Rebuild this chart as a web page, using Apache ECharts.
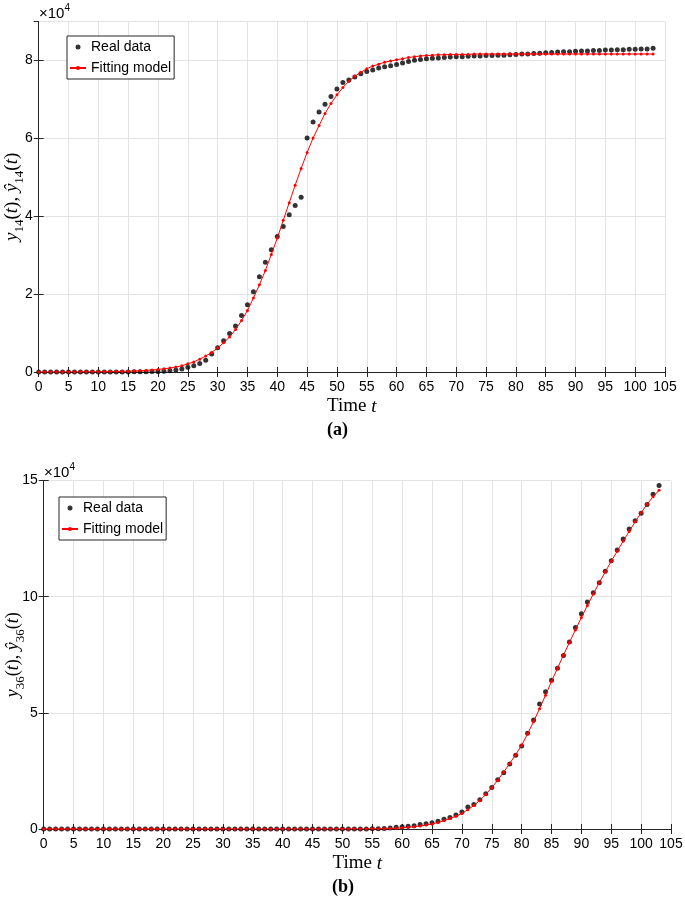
<!DOCTYPE html>
<html><head><meta charset="utf-8">
<script src="https://cdn.jsdelivr.net/npm/echarts@6/dist/echarts.min.js"></script>
<style>html,body{margin:0;padding:0;background:#fff}#c{width:685px;height:900px}</style>
</head><body><div id="c"></div>
<script>
// ---------- data ----------
const xTickLabels = [0,5,10,15,20,25,30,35,40,45,50,55,60,65,70,75,80,85,90,95,100,105];
const yTickLabelsA = [0,2,4,6,8];          // ×10^4
const yTickLabelsB = [0,5,10,15];          // ×10^4

// (a) real data, t = 0..103
const realA = [
0,0,0,0,0,0,0,0,0,0,
0,0,10,10,20,30,40,60,80,110,
150,200,300,500,800,1200,1600,2200,3000,4600,
6200,8000,9900,11800,14500,17300,20600,24500,28200,31400,
34800,37400,40400,42800,44900,60100,64200,66800,68800,70800,
72700,74400,75000,75800,76600,77200,77600,78100,78400,78700,
79000,79400,79800,80100,80300,80500,80600,80700,80800,80900,
81000,81000,81100,81200,81200,81300,81300,81400,81400,81500,
81600,81700,81700,81800,81900,82000,82100,82200,82300,82300,
82400,82500,82500,82600,82600,82700,82700,82800,82800,82900,
82900,83000,83000,83200];
// (a) fitting model
const fitA = [
10,10,10,20,20,20,30,40,40,50,
70,80,100,130,160,210,260,330,410,520,
660,830,1000,1300,1600,2100,2600,3300,4100,5000,
6200,7500,9000,10900,13200,15800,19000,22400,26100,30200,
34400,39000,43500,48000,52300,56400,60100,63300,66400,69000,
71200,73100,74700,76000,77000,77900,78600,79100,79600,79900,
80200,80500,80800,81000,81200,81300,81400,81500,81500,81600,
81600,81600,81600,81700,81700,81700,81700,81700,81700,81700,
81700,81700,81700,81700,81700,81700,81700,81700,81700,81700,
81700,81700,81700,81700,81700,81700,81700,81700,81700,81700,
81700,81700,81700,81700];
// (b) real data
const realB = [
0,0,0,0,0,0,0,0,0,0,
0,0,0,0,0,0,0,0,0,0,
0,0,0,0,0,0,0,0,0,0,
0,0,0,0,0,0,0,0,0,0,
0,0,0,0,0,0,0,0,0,0,
0,10,20,30,40,60,100,200,400,700,
1000,1200,1400,1900,2300,2700,3300,4200,4900,6000,
7300,9500,10500,12600,15200,17900,21200,24200,28000,31700,
35700,41200,46900,53800,59100,64000,69200,74700,80500,86700,
92600,97700,101700,106000,110900,115500,120100,124800,129100,132700,
135900,139700,144100,147900];
// (b) fitting model
const fitB = [
0,0,0,0,0,0,0,0,0,0,
0,0,0,0,0,0,0,0,0,0,
0,0,0,0,0,0,0,0,0,0,
0,0,0,0,0,0,0,0,0,0,
0,0,0,0,0,0,0,0,0,0,
10,10,20,30,40,60,80,120,180,280,
500,700,1000,1300,1700,2200,2800,3600,4500,5500,
6700,8300,10100,12300,14900,17800,21000,24500,28200,32000,
36000,41000,46200,51800,57600,63500,69200,74800,80300,85700,
91000,96200,101200,106000,110700,115200,119600,123900,128100,132200,
136100,139800,143000,145800];

// ---------- chart ----------
const AX = '#262626', GRID = '#e3e3e3';
const SANS = 'Liberation Sans', SERIF = 'Liberation Serif';
const pairs = arr => arr.map((v, i) => [i, v]);

function xAx(gi) {
  return [{
    gridIndex: gi, type: 'value', min: 0, max: 105, interval: 5, position: 'bottom',
    axisLine: {lineStyle: {color: AX, width: 1}},
    axisTick: {inside: true, length: 5, lineStyle: {color: AX}},
    axisLabel: {color: '#000', fontFamily: SANS, fontSize: 14, margin: 8,
      formatter: v => xTickLabels.includes(v) ? String(v) : ''},
    splitLine: {show: true, lineStyle: {color: GRID, width: 1}},
    name: '{r|Time }{i|t}', nameLocation: 'middle', nameGap: 25, nameMoveOverlap: false,
    nameTextStyle: {rich: {r: {fontFamily: SERIF, fontSize: 19, color: '#000'},
                           i: {fontFamily: SERIF, fontStyle: 'italic', fontSize: 19, color: '#000'}}}
  }, {
    gridIndex: gi, type: 'value', min: 0, max: 105, interval: 5, position: 'top',
    axisLine: {lineStyle: {color: AX, width: 1}},
    axisTick: {inside: true, length: 5, lineStyle: {color: AX}},
    axisLabel: {show: false}, splitLine: {show: false}
  }];
}
function yAx(gi, max, interval, labels, sub, gap, fs, showMax) {
  const rich = {
    i: {fontFamily: SERIF, fontStyle: 'italic', fontSize: fs, color: '#000', verticalAlign: 'middle'},
    r: {fontFamily: SERIF, fontSize: fs, color: '#000', verticalAlign: 'middle'},
    s: {fontFamily: SERIF, fontSize: Math.round(fs * 0.7), color: '#000', verticalAlign: 'bottom', lineHeight: 11, padding: [0,0,-4,0]}
  };
  return [{
    gridIndex: gi, type: 'value', min: 0, max: max, interval: interval, position: 'left',
    axisLine: {show: true, lineStyle: {color: AX, width: 1}},
    axisTick: {show: true, inside: true, length: 5, lineStyle: {color: AX}},
    axisLabel: {color: '#000', fontFamily: SANS, fontSize: 14, margin: 6, showMaxLabel: showMax,
      formatter: v => labels.includes(v / 10000) ? String(v / 10000) : ''},
    splitLine: {show: true, lineStyle: {color: GRID, width: 1}},
    name: '{i|y}{s|' + sub + '}{r|(}{i|t}{r|), }{i|ŷ}{s|' + sub + '}{r|(}{i|t}{r|)}',
    nameLocation: 'middle', nameGap: gap, nameRotate: 90, nameMoveOverlap: false,
    nameTextStyle: {rich: rich}
  }, {
    gridIndex: gi, type: 'value', min: 0, max: max, interval: interval, position: 'right',
    axisLine: {show: true, lineStyle: {color: AX, width: 1}},
    axisTick: {show: true, inside: true, length: 5, lineStyle: {color: AX}},
    axisLabel: {show: false}, splitLine: {show: false}
  }];
}

function series(gi, real, fit) {
  return [{
    name: 'Real data', type: 'scatter', xAxisIndex: gi * 2, yAxisIndex: gi * 2,
    data: pairs(real), symbol: 'circle', symbolSize: 5,
    itemStyle: {color: '#000'}, z: 3, silent: true
  }, {
    name: 'Fitting model', type: 'line', xAxisIndex: gi * 2, yAxisIndex: gi * 2,
    data: pairs(fit), symbol: 'circle', symbolSize: 3, showSymbol: true,
    lineStyle: {color: '#ff0000', width: 1}, itemStyle: {color: '#ff0000'},
    z: 4, silent: true
  }];
}

function legend(left, top) {
  return {
    orient: 'vertical', left: left, top: top,
    data: ['Real data', 'Fitting model'],
    itemWidth: 16, itemHeight: 5, itemGap: 7,
    padding: [4, 3, 4, 2],
    borderColor: AX, borderWidth: 1, backgroundColor: '#fff',
    textStyle: {fontFamily: SANS, fontSize: 14, color: '#000'},
    selectedMode: false
  };
}

const chart = echarts.init(document.getElementById('c'), null, {renderer: 'canvas'});
chart.setOption({
  animation: false,
  backgroundColor: '#fff',
  grid: [
    {left: 38.7, top: 21.7, right: 20, bottom: 528, containLabel: false, outerBoundsMode: 'none'},
    {left: 43.7, top: 480.5, right: 14, bottom: 71, containLabel: false, outerBoundsMode: 'none'}
  ],
  xAxis: [...xAx(0), ...xAx(1)],
  yAxis: [...yAx(0, 90000, 20000, yTickLabelsA, '14', 17, 19, false), ...yAx(1, 150000, 50000, yTickLabelsB, '36', 21, 18, true)],
  legend: [legend(67, 36), legend(59, 497)],
  series: [...series(0, realA, fitA), ...series(1, realB, fitB)],
  graphic: [
    {type: 'text', left: 39, top: 3, style: {text: '{a|×10}{b|4}', rich: {
      a: {fontFamily: SANS, fontSize: 15, fill: '#000', verticalAlign: 'bottom', lineHeight: 18},
      b: {fontFamily: SANS, fontSize: 10, fill: '#000', verticalAlign: 'top', lineHeight: 18}}}},
    {type: 'text', left: 44, top: 462, style: {text: '{a|×10}{b|4}', rich: {
      a: {fontFamily: SANS, fontSize: 15, fill: '#000', verticalAlign: 'bottom', lineHeight: 18},
      b: {fontFamily: SANS, fontSize: 10, fill: '#000', verticalAlign: 'top', lineHeight: 18}}}},
    {type: 'text', left: 327, top: 421, style: {text: '(a)', fontFamily: SERIF, fontWeight: 'bold', fontSize: 18, fill: '#000'}},
    {type: 'text', left: 332, top: 878, style: {text: '(b)', fontFamily: SERIF, fontWeight: 'bold', fontSize: 18, fill: '#000'}}
  ]
});
</script></body></html>
